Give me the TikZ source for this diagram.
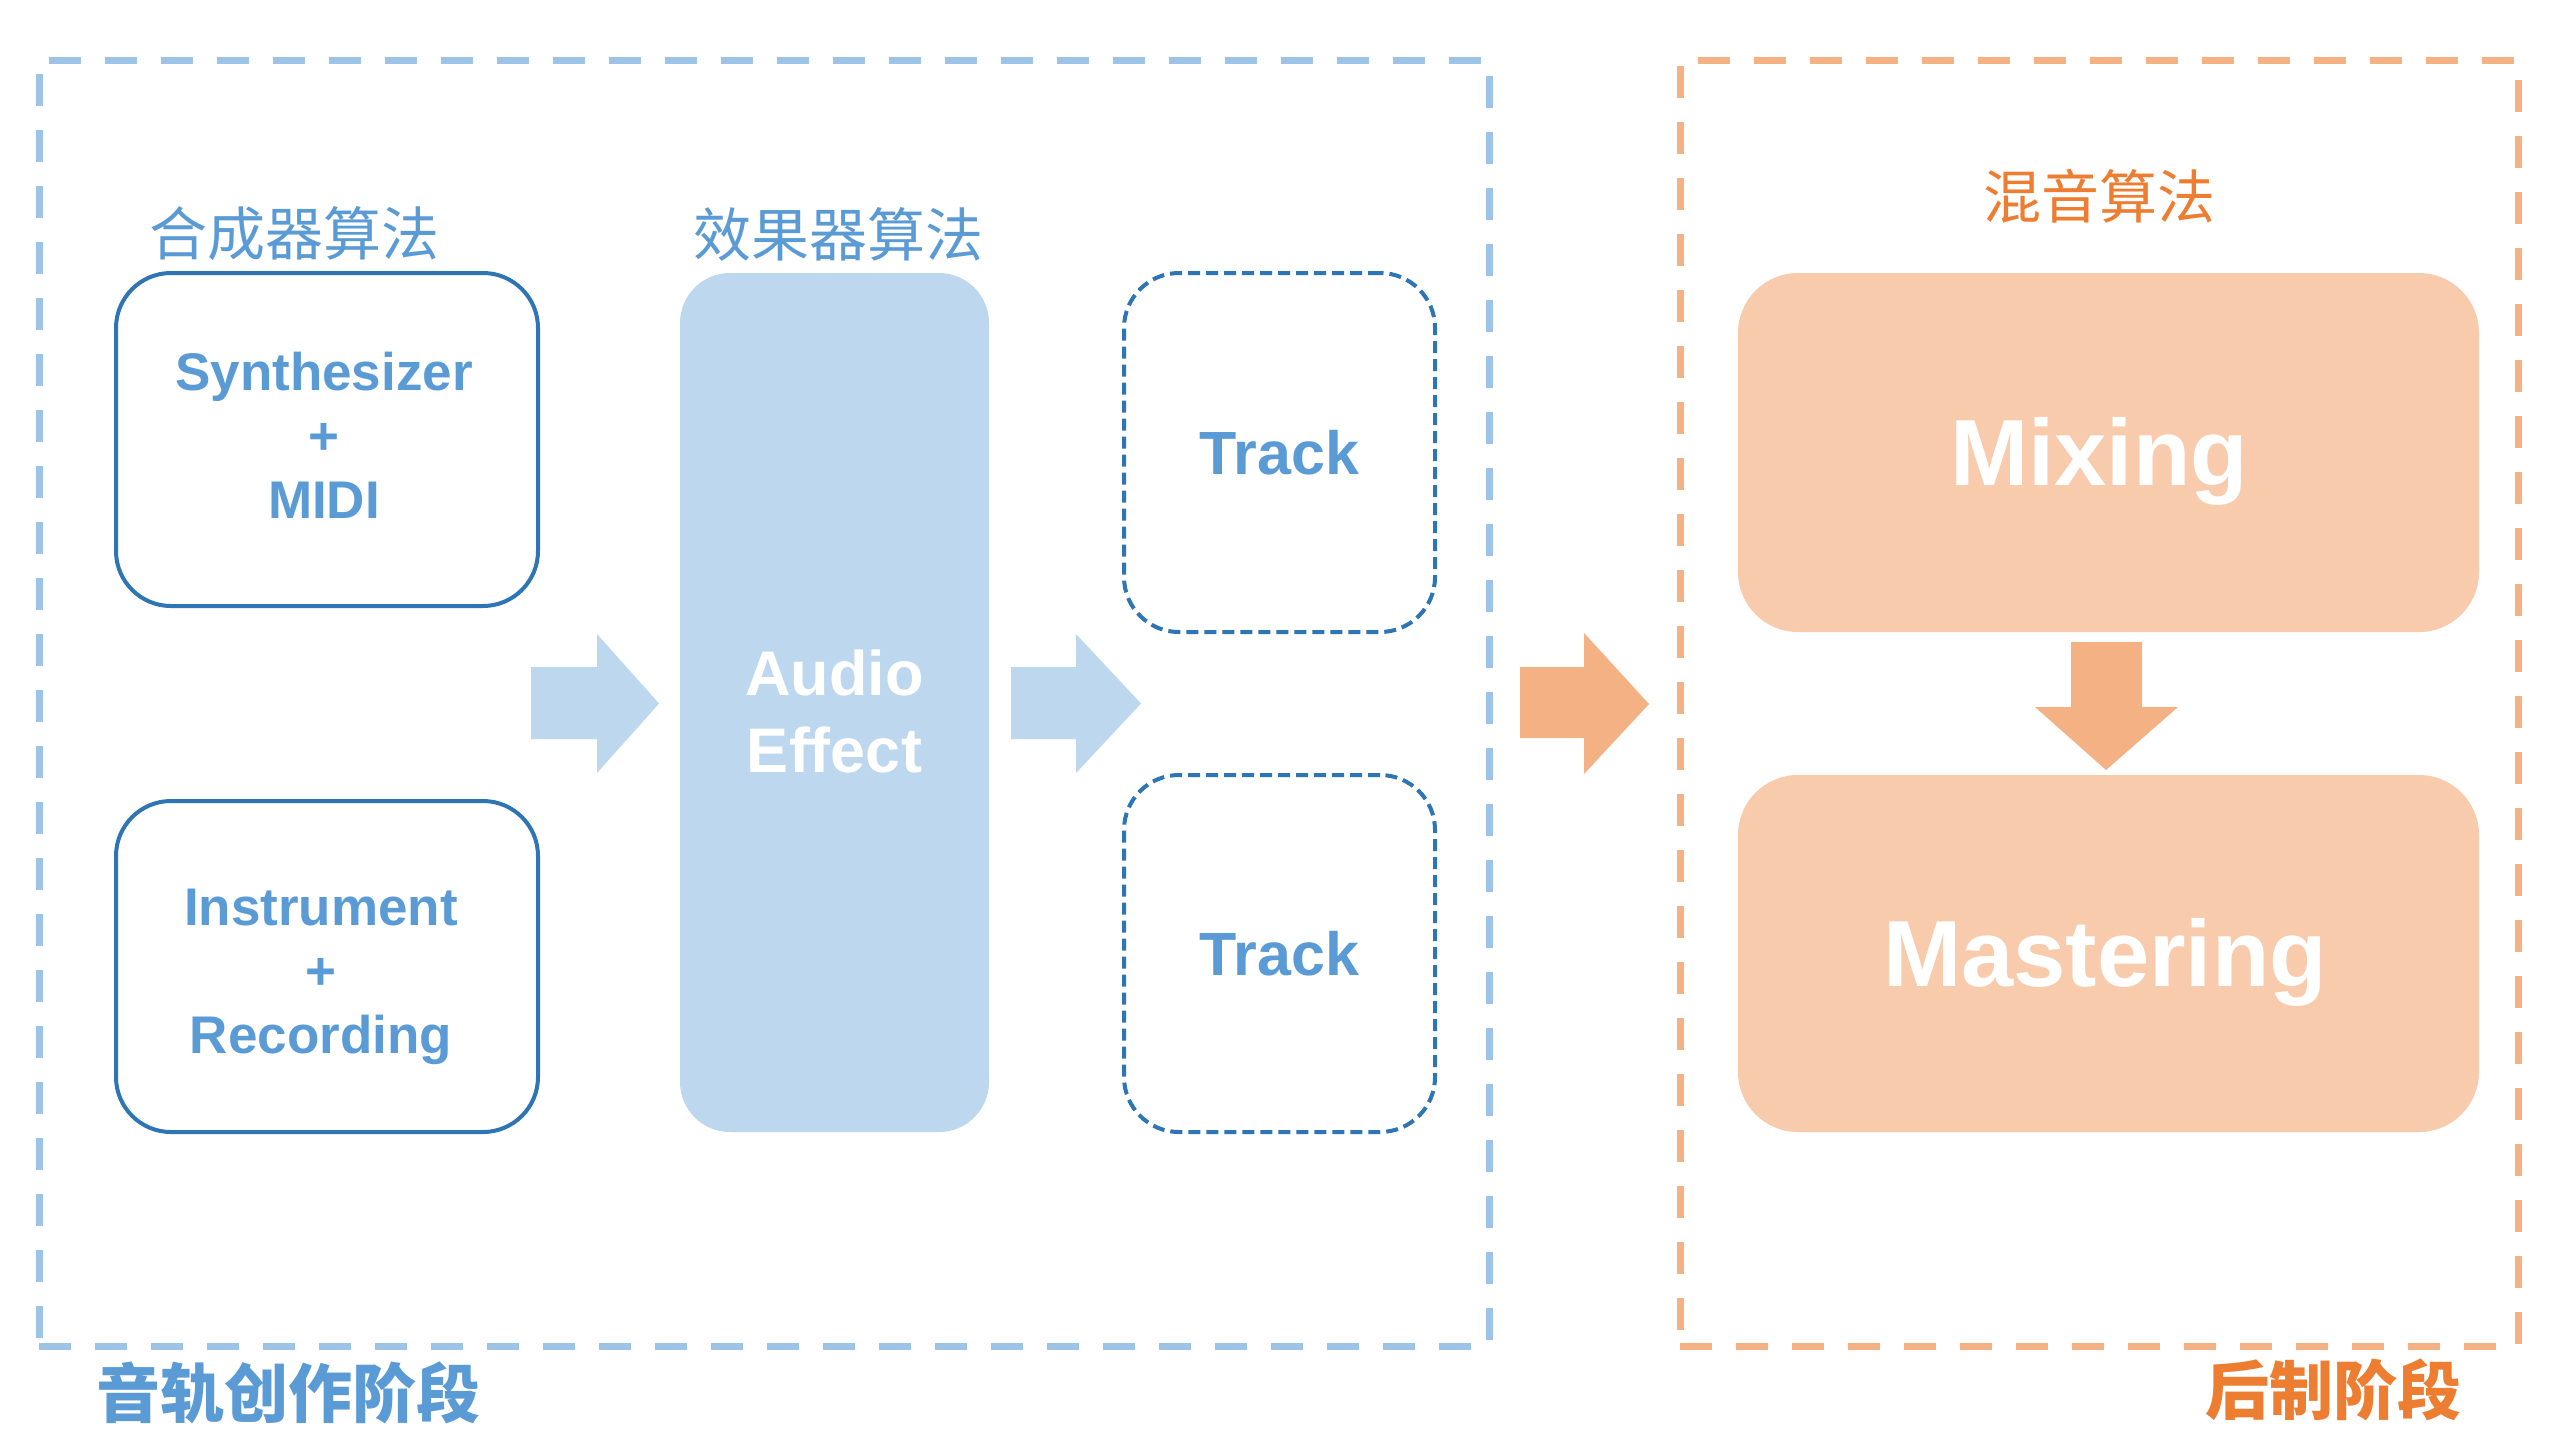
\documentclass[tikz,border=0pt]{standalone}
\usepackage{fontspec}
\setmainfont{Liberation Sans}
\newfontfamily\cjk{Noto Sans CJK SC}
\definecolor{frameblue}{HTML}{9DC3E6}
\definecolor{textblue}{HTML}{5B9BD5}
\definecolor{boxblue}{HTML}{2E75B6}
\definecolor{fillblue}{HTML}{BDD7EE}
\definecolor{frameorange}{HTML}{F4B183}
\definecolor{peach}{HTML}{F8CBAD}
\definecolor{textorange}{HTML}{ED7D31}
\begin{document}
\begin{tikzpicture}[x=1pt,y=-1pt,
  grpframe/.style={draw, line width=7pt, dash pattern=on 32pt off 24pt, inner sep=0pt},
  solidbox/.style={draw=boxblue, line width=4pt, rounded corners=55pt, inner sep=0pt},
  boxtext/.style={inner sep=0pt, text=textblue, align=center, font=\fontsize{53}{64}\selectfont\bfseries},
  dashbox/.style={draw=boxblue, line width=4pt, dash pattern=on 12pt off 6pt, rounded corners=55pt,
    inner sep=0pt, text=textblue, font=\fontsize{61}{70}\selectfont\bfseries},
  bluefill/.style={fill=fillblue, rounded corners=50pt, inner sep=0pt},
  peachbox/.style={fill=peach, rounded corners=60pt, inner sep=0pt},
  bigtext/.style={inner sep=0pt, text=white, text height=68pt, text depth=0pt,
    font=\fontsize{94}{100}\selectfont\bfseries},
  cjklabel/.style={inner sep=0pt, font=\cjk\fontsize{58}{64}\selectfont},
  stagelabel/.style={inner sep=0pt, font=\cjk\bfseries\fontsize{64}{70}\selectfont}
]
\useasboundingbox[fill=white] (0,0) rectangle (2562,1441);

% group frames
\node[grpframe, draw=frameblue, minimum width=1450pt, minimum height=1286pt] (bframe) at (764,703) {};
\node[grpframe, draw=frameorange, minimum width=838pt, minimum height=1286pt] (oframe) at (2099,703) {};

% labels
\node[cjklabel, text=textblue] (lsyn) at (294,234) {合成器算法};
\node[cjklabel, text=textblue] (leff) at (838,234) {效果器算法};
\node[cjklabel, text=textorange] (lmix) at (2099,196) {混音算法};
\node[stagelabel, text=textblue] (lstage1) at (288,1393) {音轨创作阶段};
\node[stagelabel, text=textorange] (lstage2) at (2333,1390) {后制阶段};

% left boxes
\node[solidbox, minimum width=422pt, minimum height=333pt] (syn) at (327,439.5) {};
\node[boxtext] (syntext) at (324,435) {Synthesizer\\+\\MIDI};
\node[solidbox, minimum width=422pt, minimum height=331pt] (ins) at (327,966.5) {};
\node[boxtext] (instext) at (321,977) {Instrument\\+\\Recording};

% audio effect
\node[bluefill, minimum width=309pt, minimum height=859pt] (ae) at (834.5,702.5) {};
\node[inner sep=0pt, text=white, align=center, font=\fontsize{63}{77}\selectfont\bfseries] (aetext) at (834.5,711) {Audio\\Effect};

% tracks
\node[dashbox, minimum width=311pt, minimum height=359pt] (tr1) at (1279.5,452.5) {Track};
\node[dashbox, minimum width=311pt, minimum height=357pt] (tr2) at (1279.5,953.5) {Track};

% mixing / mastering
\node[peachbox, minimum width=741pt, minimum height=359pt] (mix) at (2108.5,452.5) {};
\node[bigtext] (mixtext) at (2099,451) {Mixing};
\node[peachbox, minimum width=741pt, minimum height=357pt] (mas) at (2108.5,953.5) {};
\node[bigtext] (mastext) at (2105,952) {Mastering};

% block arrows
\fill[fillblue] (531,667) -- (597,667) -- (597,634) -- (659,703.5) -- (597,773) -- (597,739) -- (531,739) -- cycle;
\fill[fillblue] (1011,667) -- (1076,667) -- (1076,634) -- (1141,703.5) -- (1076,773) -- (1076,739) -- (1011,739) -- cycle;
\fill[frameorange] (1520,667) -- (1584,667) -- (1584,633) -- (1649,704) -- (1584,774) -- (1584,738) -- (1520,738) -- cycle;
\fill[frameorange] (2071,642) -- (2142,642) -- (2142,707) -- (2178,707) -- (2106,770) -- (2035,707) -- (2071,707) -- cycle;
\end{tikzpicture}
\end{document}
